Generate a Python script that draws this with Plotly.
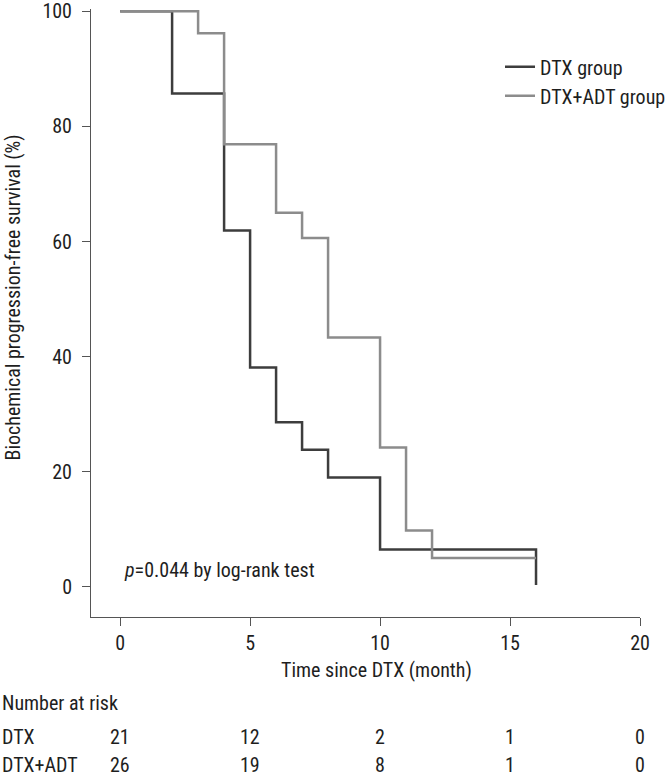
import plotly.graph_objects as go

# ---- data ----
dtx_time = [0, 2, 4, 5, 6, 7, 8, 10, 16]
dtx_surv = [100, 85.7, 61.9, 38.1, 28.6, 23.8, 19.0, 6.5, 0.3]
adt_time = [0, 3, 4, 6, 7, 8, 10, 11, 12, 16]
adt_surv = [100, 96.2, 76.9, 65.0, 60.6, 43.3, 24.2, 9.8, 5.0, 5.0]

risk_times = [0, 5, 10, 15, 20]
risk_dtx = [21, 12, 2, 1, 0]
risk_adt = [26, 19, 8, 1, 0]

FONT = "Liberation Sans Narrow, Arial Narrow, Roboto Condensed, Liberation Sans, sans-serif"
TXT = "#1e1e1e"
AX = "#555555"

fig = go.Figure()
fig.add_trace(go.Scatter(x=dtx_time, y=dtx_surv, mode="lines", line_shape="hv",
                         line=dict(color="#3d3d3d", width=2.5), name="DTX group"))
fig.add_trace(go.Scatter(x=adt_time, y=adt_surv, mode="lines", line_shape="hv",
                         line=dict(color="#8c8c8c", width=2.5), name="DTX+ADT group"))

ann = []
# axis titles
ann.append(dict(text="Time since DTX (month)", xref="paper", yref="paper", x=0.52, y=-0.0872,
                xanchor="center", yanchor="middle", showarrow=False, font=dict(size=20, color=TXT, family=FONT)))
ann.append(dict(text="Biochemical progression-free survival (%)", xref="paper", yref="paper", x=-0.142, y=0.5255,
                textangle=-90, xanchor="center", yanchor="middle", showarrow=False,
                font=dict(size=20, color=TXT, family=FONT)))
ann.append(dict(text="<i>p</i>=0.044 by log-rank test", xref="paper", yref="paper", x=0.0565, y=0.0773,
                xanchor="left", yanchor="middle", showarrow=False, font=dict(size=20, color=TXT, family=FONT)))
# number at risk table
row_y = {"hdr": -0.141, "dtx": -0.197, "adt": -0.2434}
ann.append(dict(text="Number at risk", xref="paper", yref="paper", x=-0.1658, y=row_y["hdr"],
                xanchor="left", yanchor="middle", showarrow=False, font=dict(size=20, color=TXT, family=FONT)))
ann.append(dict(text="DTX", xref="paper", yref="paper", x=-0.1658, y=row_y["dtx"],
                xanchor="left", yanchor="middle", showarrow=False, font=dict(size=20, color=TXT, family=FONT)))
ann.append(dict(text="DTX+ADT", xref="paper", yref="paper", x=-0.1658, y=row_y["adt"],
                xanchor="left", yanchor="middle", showarrow=False, font=dict(size=20, color=TXT, family=FONT)))
for t, a, b in zip(risk_times, risk_dtx, risk_adt):
    ann.append(dict(text=str(a), xref="x", yref="paper", x=t, y=row_y["dtx"], xanchor="center",
                    yanchor="middle", showarrow=False, font=dict(size=20, color=TXT, family=FONT)))
    ann.append(dict(text=str(b), xref="x", yref="paper", x=t, y=row_y["adt"], xanchor="center",
                    yanchor="middle", showarrow=False, font=dict(size=20, color=TXT, family=FONT)))

fig.update_layout(
    width=667, height=776,
    margin=dict(l=91, r=27, t=9, b=159, autoexpand=False),
    paper_bgcolor="white", plot_bgcolor="white",
    font=dict(family=FONT, size=20, color=TXT),
    showlegend=True,
    legend=dict(x=0.745, y=0.937, xanchor="left", yanchor="top", bgcolor="rgba(0,0,0,0)",
                font=dict(size=20, color=TXT, family=FONT), itemwidth=30, tracegroupgap=0),
    annotations=ann,
)
fig.update_xaxes(range=[-1.12, 20], tickvals=risk_times, ticks="outside", ticklen=8, tickcolor=AX,
                 showline=True, linecolor=AX, linewidth=1, showgrid=False, zeroline=False,
                 tickfont=dict(size=20, color=TXT, family=FONT))
fig.update_yaxes(range=[-5.25, 100.4], tickvals=[0, 20, 40, 60, 80, 100], ticks="outside", ticklen=8,
                 tickcolor=AX, showline=True, linecolor=AX, linewidth=1, showgrid=False, zeroline=False,
                 ticklabelstandoff=6, ticklabeloverflow="allow",
                 tickfont=dict(size=20, color=TXT, family=FONT))

fig.write_html("out.html", config={"displayModeBar": False},
               post_script="document.body.style.margin='0';")
